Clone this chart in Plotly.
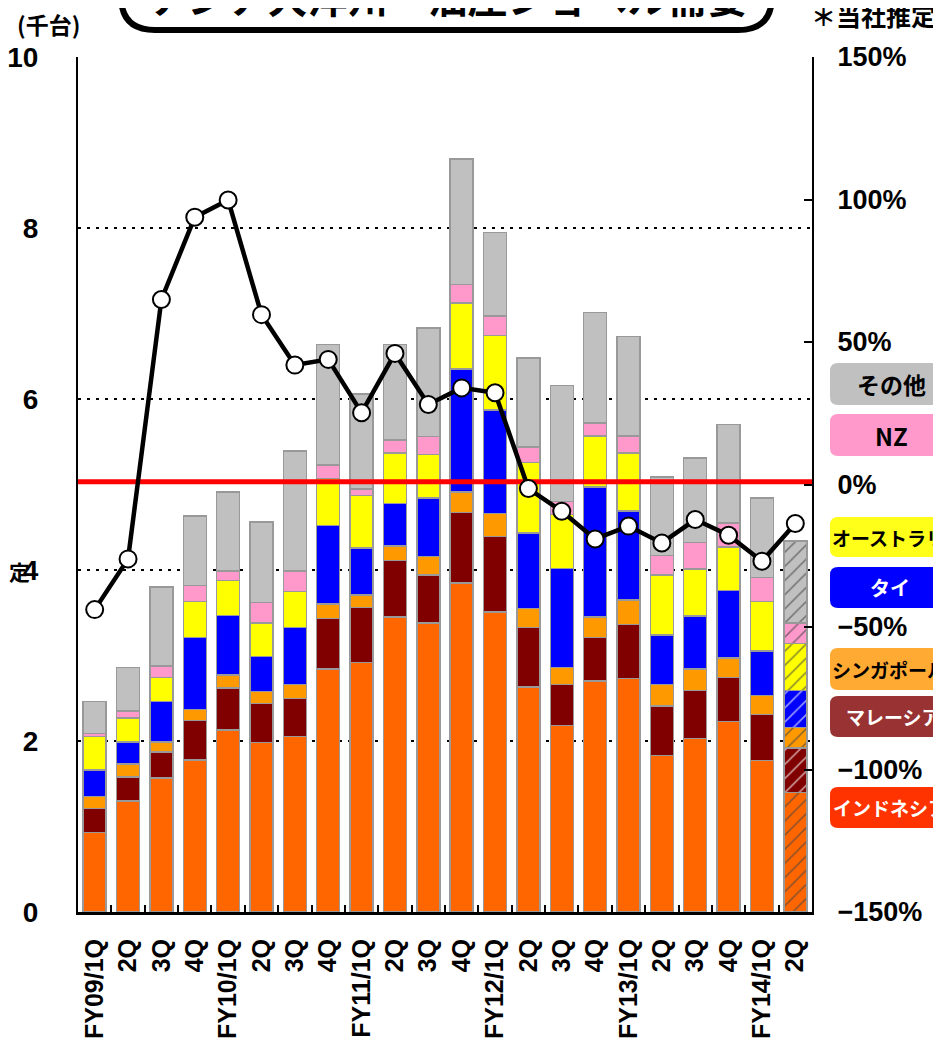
import plotly.graph_objects as go

# quarters on the x axis
quarters = ["FY09/1Q", "2Q", "3Q", "4Q",
            "FY10/1Q", "2Q", "3Q", "4Q",
            "FY11/1Q", "2Q", "3Q", "4Q",
            "FY12/1Q", "2Q", "3Q", "4Q",
            "FY13/1Q", "2Q", "3Q", "4Q",
            "FY14/1Q", "2Q"]

# demand by country (thousand units)
indonesia = [0.93, 1.30, 1.57, 1.78, 2.13, 1.98, 2.05, 2.84, 2.92, 3.45, 3.38,
             3.85, 3.51, 2.63, 2.18, 2.70, 2.73, 1.83, 2.03, 2.23, 1.77, 1.40]
malaysia = [0.28, 0.28, 0.30, 0.46, 0.49, 0.46, 0.45, 0.59, 0.64, 0.66, 0.56,
            0.82, 0.88, 0.70, 0.48, 0.51, 0.63, 0.58, 0.56, 0.51, 0.54, 0.52]
singapore = [0.14, 0.15, 0.12, 0.13, 0.15, 0.14, 0.16, 0.17, 0.15, 0.17, 0.22,
             0.24, 0.27, 0.22, 0.20, 0.24, 0.29, 0.25, 0.25, 0.23, 0.22, 0.24]
thailand = [0.31, 0.26, 0.47, 0.84, 0.70, 0.41, 0.67, 0.92, 0.55, 0.50, 0.68,
            1.44, 1.21, 0.88, 1.16, 1.52, 1.04, 0.58, 0.62, 0.79, 0.52, 0.43]
australia = [0.39, 0.28, 0.28, 0.42, 0.41, 0.39, 0.42, 0.55, 0.61, 0.59, 0.51,
             0.77, 0.87, 0.83, 0.63, 0.60, 0.68, 0.70, 0.55, 0.51, 0.58, 0.55]
nz = [0.04, 0.08, 0.14, 0.19, 0.11, 0.24, 0.24, 0.16, 0.08, 0.15, 0.21,
      0.22, 0.23, 0.18, 0.15, 0.15, 0.20, 0.23, 0.31, 0.28, 0.28, 0.24]
others = [0.37, 0.51, 0.92, 0.81, 0.92, 0.94, 1.40, 1.41, 1.11, 1.12, 1.27,
          1.47, 0.98, 1.04, 1.36, 1.29, 1.16, 0.92, 0.99, 1.15, 0.93, 0.96]

# year-on-year change (%), right axis
growth = [-43.9, -26.1, 64.9, 93.8, 99.8, 59.6, 41.9, 43.9, 25.2, 46.0, 28.1,
          33.9, 32.2, -1.4, -9.4, -19.1, -14.6, -20.5, -12.3, -17.8, -26.9, -13.7]

estimated = [False] * 21 + [True]   # last quarter is an estimate (hatched)

pct_ticks = [-150, -100, -50, 0, 50, 100, 150]
pct_labels = ["−150%", "−100%", "−50%", "0%", "50%", "100%", "150%"]

series = [
    ("インドネシア", indonesia, "#FF6600"),
    ("マレーシア", malaysia, "#800000"),
    ("シンガポール", singapore, "#FF9900"),
    ("タイ", thailand, "#0000FF"),
    ("オーストラリア", australia, "#FFFF00"),
    ("NZ", nz, "#FF99CC"),
    ("その他", others, "#C0C0C0"),
]

# page has an 8px body margin, so the figure is shrunk and shifted by that
OFF = 8
W, H = 941 - OFF, 1043 - OFF
L, R, T, B = 78, 812, 57, 912          # plot area in page pixels
JP = "Noto Sans CJK JP"
NUM = "Liberation Sans, Arial"


def px(x):
    return (x - L) / (R - L)


def py(y):
    return (B - y) / (B - T)


def round_rect(x0, y0, x1, y1, r):
    # rounded rectangle in page pixels -> paper path
    rx = r / (R - L)
    ry = r / (B - T)
    a, b, c, d = px(x0), py(y1), px(x1), py(y0)
    return (f"M {a+rx},{b} L {c-rx},{b} Q {c},{b} {c},{b+ry} "
            f"L {c},{d-ry} Q {c},{d} {c-rx},{d} L {a+rx},{d} "
            f"Q {a},{d} {a},{d-ry} L {a},{b+ry} Q {a},{b} {a+rx},{b} Z")


def text_at(x, y, text, size, color="black", xanchor="center"):
    return dict(text=text, xref="paper", yref="paper", x=px(x), y=py(y),
                xanchor=xanchor, yanchor="middle", showarrow=False,
                font=dict(family=JP, size=size, color=color, weight="bold"))


xpos = list(range(len(quarters)))

fig = go.Figure()

for name, vals, col in series:
    fig.add_trace(go.Bar(
        x=xpos, y=vals, name=name,
        marker=dict(
            color=col,
            line=dict(color="#999999", width=1.5),
            pattern=dict(shape=["/" if e else "" for e in estimated],
                         size=10, solidity=0.16, fgopacity=0.6),
        ),
        showlegend=False,
    ))

# red reference line and growth line on the right axis
fig.add_trace(go.Scatter(
    x=[-0.5, len(quarters) - 0.5], y=[1, 1], yaxis="y2", mode="lines",
    line=dict(color="#FF0000", width=5), showlegend=False, hoverinfo="skip",
))
fig.add_trace(go.Scatter(
    x=xpos, y=growth, yaxis="y2", mode="lines+markers",
    line=dict(color="black", width=4.5),
    marker=dict(size=17, color="white", line=dict(color="black", width=2)),
    showlegend=False,
))

shapes = []
annotations = []

# title box (top is cut off by the page edge)
shapes.append(dict(type="path", xref="paper", yref="paper",
                   path=round_rect(121, -80, 772, 30, 34),
                   fillcolor="white", line=dict(color="black", width=6),
                   layer="above"))
annotations.append(text_at(448, -4, "アジア大洋州　油圧ショベル需要", 40))
annotations.append(text_at(48, 24, "(千台)", 23))
annotations.append(text_at(873, 15, "＊当社推定", 25))
annotations.append(text_at(19, 571, "定", 21))

# legend boxes on the right
legend_boxes = [
    ("その他", "#C0C0C0", "black", 363, 405, 891, "center", 23),
    ("NZ", "#FF99CC", "black", 414, 456, 891, "center", 24),
    ("オーストラリア", "#FFFF1A", "black", 517, 557, 830, "left", 19),
    ("タイ", "#0000FF", "white", 567, 608, 890, "center", 20),
    ("シンガポール", "#FFAA33", "black", 648, 690, 830, "left", 19),
    ("マレーシア", "#993333", "white", 696, 737, 844, "left", 19),
    ("インドネシア", "#FF3300", "white", 787, 828, 831, "left", 19),
]
for text, fill, fc, y0, y1, tx, anchor, fs in legend_boxes:
    shapes.append(dict(type="path", xref="paper", yref="paper",
                       path=round_rect(830, y0, 990, y1, 8),
                       fillcolor=fill, line=dict(width=0), layer="above"))
    annotations.append(text_at(tx, (y0 + y1) / 2, text, fs, fc, anchor))

fig.update_layout(
    width=W, height=H,
    margin=dict(l=L - OFF, r=W - (R - OFF), t=T - OFF, b=H - (B - OFF),
                pad=0, autoexpand=False),
    paper_bgcolor="white", plot_bgcolor="white",
    barmode="stack", bargap=0.31,
    shapes=shapes, annotations=annotations,
    xaxis=dict(
        range=[-0.5, len(quarters) - 0.5], automargin=False,
        tickmode="array", tickvals=xpos, ticktext=quarters,
        tickangle=-90, ticks="", ticklabelstandoff=14,
        tickfont=dict(family=NUM, size=25, color="black", weight="bold"),
        minor=dict(tickmode="array", tickvals=[i + 0.5 for i in xpos[:-1]],
                   ticks="inside", ticklen=7, tickcolor="black", tickwidth=1.5),
        showline=True, linecolor="black", linewidth=3,
        showgrid=False, zeroline=False, fixedrange=True,
    ),
    yaxis=dict(
        range=[0, 10], tickvals=[0, 2, 4, 6, 8, 10], automargin=False,
        ticks="", ticklabelstandoff=32,
        tickfont=dict(family=NUM, size=28, color="black", weight="bold"),
        showline=True, linecolor="black", linewidth=2,
        showgrid=True, gridcolor="black", gridwidth=2, griddash="3px,6px",
        zeroline=False,
    ),
    yaxis2=dict(
        range=[-150, 150], tickmode="array", tickvals=pct_ticks, ticktext=pct_labels,
        overlaying="y", side="right", automargin=False,
        ticks="inside", ticklen=8, tickcolor="black", tickwidth=1.5,
        ticklabelstandoff=18,
        tickfont=dict(family=NUM, size=27, color="black", weight="bold"),
        showline=True, linecolor="black", linewidth=2,
        showgrid=False, zeroline=False,
    ),
)

fig.write_html("out.html")
